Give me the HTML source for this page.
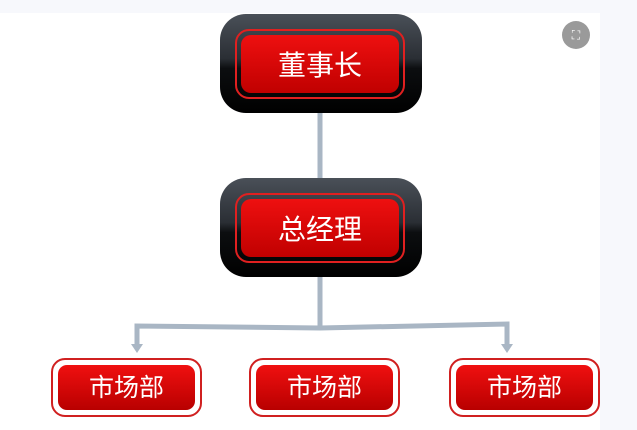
<!DOCTYPE html>
<html><head><meta charset="utf-8"><style>
body{margin:0;width:637px;height:430px;background:#f7f8fc;position:relative;overflow:hidden;font-family:"Liberation Sans","Noto Sans CJK SC",sans-serif}
.w{position:absolute;left:0;top:13px;width:600px;height:417px;background:#fff}
.d{position:absolute;left:220px;width:202px;height:99px;border-radius:26px;background:linear-gradient(#4a5058 0%,#2a2e34 45%,#0c0e10 55%,#000 100%)}
.d .r{position:absolute;left:15px;top:15px;width:166px;height:66px;border:2px solid #e02020;border-radius:14px}
.d .r div{position:absolute;left:4px;top:4px;right:4px;bottom:4px;border-radius:10px;background:linear-gradient(#ee1010,#c00000);color:#fff;font-size:28px;text-align:center;line-height:62px}
.b{position:absolute;top:358px;width:147px;height:55px;border:2px solid #d02020;border-radius:14px;background:#fff}
.b div{position:absolute;left:5px;top:5px;right:5px;bottom:5px;border-radius:9px;background:linear-gradient(#f01010,#b80000);color:#fff;font-size:25px;text-align:center;line-height:47px}
.ic{position:absolute;left:562px;top:21px;width:28px;height:28px;border-radius:50%;background:#9a9a9a;color:#fff;font-size:12px;text-align:center;line-height:28px}
</style></head><body>
<div class="w"></div>
<svg style="position:absolute;left:0;top:0" width="637" height="430">
<g stroke="#a9b6c4" stroke-width="5" fill="none">
<line x1="320" y1="110" x2="320" y2="180"/>
<line x1="320" y1="275" x2="320" y2="328"/>
<polyline points="137,346 137,326 320,328 507,324 507,346"/>
</g>
<polygon points="131,344 143,344 137,353" fill="#a9b6c4"/>
<polygon points="501,344 513,344 507,353" fill="#a9b6c4"/>
</svg>
<div class="d" style="top:14px"><div class="r"><div>董事长</div></div></div>
<div class="d" style="top:178px"><div class="r"><div>总经理</div></div></div>
<div class="b" style="left:51px"><div>市场部</div></div>
<div class="b" style="left:249px"><div>市场部</div></div>
<div class="b" style="left:449px"><div>市场部</div></div>
<div class="ic">⛶</div>
</body></html>
